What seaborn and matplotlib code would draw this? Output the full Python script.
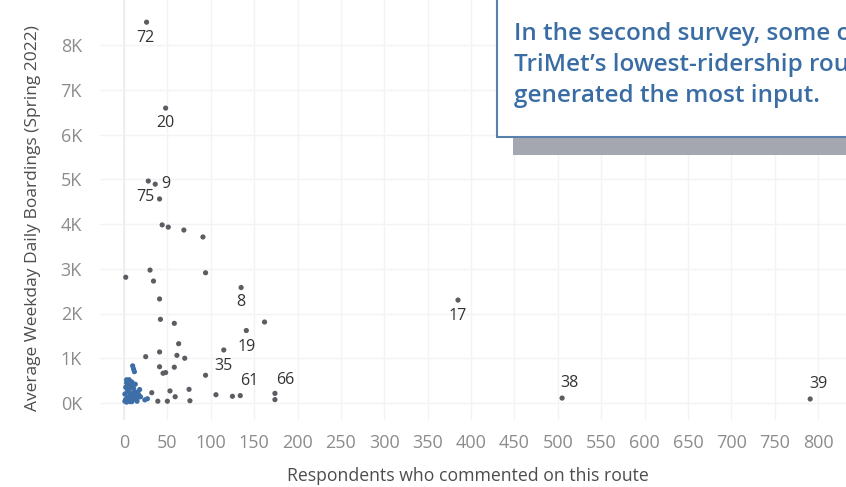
import matplotlib
matplotlib.use("Agg")
import matplotlib.pyplot as plt
import seaborn as sns
import pandas as pd
from matplotlib.patches import Rectangle

# Labeled routes: route number, respondents commenting, avg weekday boardings
labeled_routes = ["72", "20", "9", "75", "8", "19", "17", "35", "61", "66", "38", "39"]
labeled_comments = [26, 48, 36, 41, 135, 141, 385, 115, 134, 174, 505, 791]
labeled_boardings = [8510, 6590, 4890, 4560, 2580, 1620, 2300, 1185, 165, 215, 110, 90]

# Other routes (unlabeled)
other_comments = [28, 44, 51, 69, 91, 2, 30, 34, 94, 41, 42, 58, 162,
                  63, 41, 61, 70, 25, 41, 58, 45, 48, 94,
                  32, 53, 75, 59, 106, 125, 174, 39, 50, 76]
other_boardings = [4960, 3980, 3930, 3865, 3710, 2810, 2970, 2725, 2910, 2325, 1870, 1780, 1810,
                   1325, 1140, 1065, 1000, 1035, 810, 800, 665, 680, 620,
                   230, 270, 305, 140, 185, 150, 75, 40, 40, 50]

# Low-ridership, low-comment routes near the origin
cluster_comments = [1, 2, 3, 4, 5, 6, 7, 8, 9, 10, 11, 12, 13, 14, 15,
                    2, 3, 5, 6, 8, 9, 11, 13, 16, 17, 19, 4, 7, 1, 3,
                    10, 12, 11, 14, 24, 27, 18, 15, 6, 9]
cluster_boardings = [40, 80, 20, 120, 60, 150, 30, 100, 200, 70, 160, 250, 120, 190, 90,
                     350, 450, 400, 300, 380, 470, 330, 420, 250, 180, 140, 260, 220, 200, 520,
                     830, 700, 760, 130, 70, 95, 300, 40, 520, 30]

label_offsets = {  # pixel offsets (dx, dy) of each route label from its point; +dy is up
    "72": (-1, -16), "20": (0, -15), "9": (11, 0), "75": (-14, 2),
    "8": (0, -14), "19": (0, -16), "17": (0, -16), "35": (0, -16),
    "61": (9, 15), "66": (10, 13), "38": (7, 15), "39": (8, 15),
}

df = pd.DataFrame({
    "comments": labeled_comments + other_comments + cluster_comments,
    "boardings": labeled_boardings + other_boardings + cluster_boardings,
    "group": ["main"] * (len(labeled_comments) + len(other_comments)) + ["low"] * len(cluster_comments),
})

sns.set_theme(style="white")
plt.rcParams["font.family"] = ["Open Sans", "DejaVu Sans"]

W, H = 846, 487
fig = plt.figure(figsize=(W / 100, H / 100), dpi=100)
fig.patch.set_facecolor("white")

# axes placed in pixel terms
ax_left, ax_right, ax_top, ax_bottom = 100, 846, 0, 420
ax = fig.add_axes([ax_left / W, (H - ax_bottom) / H, (ax_right - ax_left) / W, (ax_bottom - ax_top) / H])

px_per_x = 694 / 800.0
px_per_y = 358 / 8000.0
x0_px, y0_px = 124, 403
ax.set_xlim((ax_left - x0_px) / px_per_x, (ax_right - x0_px) / px_per_x)
ax.set_ylim((y0_px - ax_bottom) / px_per_y, (y0_px - ax_top) / px_per_y)

sns.scatterplot(data=df, x="comments", y="boardings", hue="group",
                palette={"main": "#5b5d62", "low": "#3d6ea8"},
                s=14, linewidth=0, legend=False, ax=ax, zorder=3)

ax.set_xticks(range(0, 801, 50))
ax.set_yticks(range(0, 8001, 1000))
ax.set_yticklabels([f"{v // 1000}K" for v in range(0, 8001, 1000)])
ax.grid(True, color="#f3f3f3", linewidth=1.0)
ax.axvline(0, color="#ececec", linewidth=1.2, zorder=1)
for s in ax.spines.values():
    s.set_visible(False)
ax.tick_params(axis="both", length=0, labelsize=13, labelcolor="#8c8c8c")
ax.tick_params(axis="y", pad=13)
ax.tick_params(axis="x", pad=10)
ax.set_xlabel("")
ax.set_ylabel("")

for r, x, y in zip(labeled_routes, labeled_comments, labeled_boardings):
    dx, dy = label_offsets[r]
    ax.annotate(r, (x, y), xytext=(dx * 0.72, dy * 0.72),
                textcoords="offset points", ha="center", va="center",
                fontsize=11.5, color="#333333", zorder=4)

fig.text(468 / W, 1 - 476 / H, "Respondents who commented on this route",
         ha="center", va="center", fontsize=12.7, color="#4d4d4d")
fig.text(33 / W, 1 - 218 / H, "Average Weekday Daily Boardings (Spring 2022)",
         ha="center", va="center", rotation=90, fontsize=12.5, color="#4d4d4d")

# callout box with drop shadow, running off the right edge of the figure
fig.patches.append(Rectangle((513 / W, 1 - 155 / H), (W - 513) / W + 0.05, 60 / H,
                             transform=fig.transFigure, facecolor="#a5a7b0",
                             edgecolor="none", zorder=5))
fig.patches.append(Rectangle((497 / W, 1 - 137 / H), (W - 497) / W + 0.05, 137 / H + 0.05,
                             transform=fig.transFigure, facecolor="white",
                             edgecolor="#5a81ae", linewidth=1.5, zorder=6))
fig.text(514 / W, 1 - 65 / H,
         "In the second survey, some of\nTriMet\u2019s lowest-ridership routes\ngenerated the most input.",
         ha="left", va="center", fontsize=17.5, fontweight="semibold", color="#3a6da4",
         linespacing=1.4, zorder=7)

fig.savefig("out.png", dpi=100)
